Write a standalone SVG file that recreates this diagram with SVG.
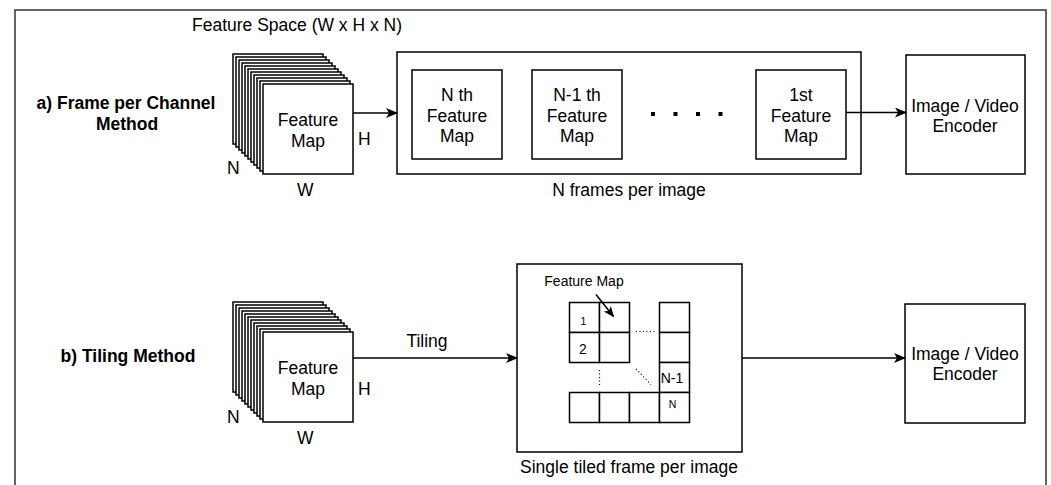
<svg xmlns="http://www.w3.org/2000/svg" width="1051" height="485" viewBox="0 0 1051 485">
  <defs>
    <style>
      .box { fill: #fff; stroke: #000; stroke-width: 1.5; }
      .frame { fill: none; stroke: #333; stroke-width: 1.5; }
      .edge { fill: none; stroke: #000; stroke-width: 1.5; }
      .dots { fill: none; stroke: #000; stroke-width: 1.2; stroke-dasharray: 1 2.5; }
      text { font-family: "Liberation Sans", Arial, Helvetica, sans-serif; fill: #000; }
      .t { font-size: 17.5px; }
      .c { text-anchor: middle; }
      .b { font-weight: bold; }
      .s { font-size: 14px; }
      .xs { font-size: 10.5px; }
    </style>
    <marker id="arrow" viewBox="0 0 12 10" refX="11" refY="5" markerWidth="12" markerHeight="10" markerUnits="userSpaceOnUse" orient="auto">
      <path d="M0,0 L12,5 L0,10 L3,5 Z" fill="#000"/>
    </marker>
    <marker id="arrowSm" viewBox="0 0 12 10" refX="11" refY="5" markerWidth="11" markerHeight="9" markerUnits="userSpaceOnUse" orient="auto">
      <path d="M0,0 L12,5 L0,10 L3,5 Z" fill="#000"/>
    </marker>
  </defs>

  <rect width="1051" height="485" fill="#fff"/>

  <!-- outer frame (continues past the bottom edge) -->
  <rect class="frame" x="15" y="10" width="1031" height="520"/>

  <!-- row labels -->
  <g id="label-a">
    <text class="t b c" x="126" y="109">a) Frame per Channel</text>
    <text class="t b c" x="127" y="130">Method</text>
  </g>
  <g id="label-b">
    <text class="t b c" x="128" y="362">b) Tiling Method</text>
  </g>

  <text id="feature-space" class="t" x="192" y="31">Feature Space (W x H x N)</text>

  <!-- a) stacked feature maps -->
  <g id="stack-a">
    <rect class="box" x="233" y="54" width="90" height="90"/>
    <rect class="box" x="236" y="57" width="90" height="90"/>
    <rect class="box" x="239" y="60" width="90" height="90"/>
    <rect class="box" x="242" y="63" width="90" height="90"/>
    <rect class="box" x="245" y="66" width="90" height="90"/>
    <rect class="box" x="248" y="69" width="90" height="90"/>
    <rect class="box" x="251" y="72" width="90" height="90"/>
    <rect class="box" x="254" y="75" width="90" height="90"/>
    <rect class="box" x="257" y="78" width="90" height="90"/>
    <rect class="box" x="260" y="81" width="90" height="90"/>
    <rect class="box" x="263" y="84" width="90" height="90"/>
    <text class="t c" x="308" y="126">Feature</text>
    <text class="t c" x="308" y="147">Map</text>
    <text class="t" x="358" y="145">H</text>
    <text class="t" x="227" y="174">N</text>
    <text class="t" x="297" y="196">W</text>
  </g>

  <!-- a) N frames container -->
  <g id="frames-a">
    <rect class="box" x="397" y="52" width="464" height="122"/>
    <text class="t c" x="629" y="196">N frames per image</text>
  </g>
  <g id="frame-nth">
    <rect class="box" x="412" y="70" width="90" height="89"/>
    <text class="t c" x="457" y="101">N th</text>
    <text class="t c" x="457" y="121.5">Feature</text>
    <text class="t c" x="457" y="142">Map</text>
  </g>
  <g id="frame-n1th">
    <rect class="box" x="532" y="70" width="90" height="89"/>
    <text class="t c" x="577" y="101">N-1 th</text>
    <text class="t c" x="577" y="121.5">Feature</text>
    <text class="t c" x="577" y="142">Map</text>
  </g>
  <g id="frame-ellipsis" fill="#000">
    <rect x="651" y="112" width="4" height="4"/>
    <rect x="673.5" y="112" width="4" height="4"/>
    <rect x="696" y="112" width="4" height="4"/>
    <rect x="718.5" y="112" width="4" height="4"/>
  </g>
  <g id="frame-1st">
    <rect class="box" x="756" y="70" width="90" height="89"/>
    <text class="t c" x="801" y="101">1st</text>
    <text class="t c" x="801" y="121.5">Feature</text>
    <text class="t c" x="801" y="142">Map</text>
  </g>

  <g id="encoder-a">
    <rect class="box" x="906" y="55" width="119" height="119"/>
    <text class="t c" x="965" y="112">Image / Video</text>
    <text class="t c" x="965" y="132">Encoder</text>
  </g>

  <!-- b) stacked feature maps -->
  <g id="stack-b">
    <rect class="box" x="233" y="302" width="90" height="90"/>
    <rect class="box" x="236" y="305" width="90" height="90"/>
    <rect class="box" x="239" y="308" width="90" height="90"/>
    <rect class="box" x="242" y="311" width="90" height="90"/>
    <rect class="box" x="245" y="314" width="90" height="90"/>
    <rect class="box" x="248" y="317" width="90" height="90"/>
    <rect class="box" x="251" y="320" width="90" height="90"/>
    <rect class="box" x="254" y="323" width="90" height="90"/>
    <rect class="box" x="257" y="326" width="90" height="90"/>
    <rect class="box" x="260" y="329" width="90" height="90"/>
    <rect class="box" x="263" y="332" width="90" height="90"/>
    <text class="t c" x="308" y="374">Feature</text>
    <text class="t c" x="308" y="395">Map</text>
    <text class="t" x="358" y="395">H</text>
    <text class="t" x="227" y="423">N</text>
    <text class="t" x="297" y="444">W</text>
  </g>

  <!-- b) single tiled frame -->
  <g id="tiled-frame">
    <rect class="box" x="517" y="264" width="225" height="188"/>
    <text class="t c" x="629" y="473">Single tiled frame per image</text>
    <text class="s c" x="584" y="286">Feature Map</text>
    <g id="tiles">
      <rect class="box" x="569.5" y="302.5" width="30" height="30"/>
      <rect class="box" x="599.5" y="302.5" width="30" height="30"/>
      <rect class="box" x="659.5" y="302.5" width="30" height="30"/>
      <rect class="box" x="569.5" y="332.5" width="30" height="30"/>
      <rect class="box" x="599.5" y="332.5" width="30" height="30"/>
      <rect class="box" x="659.5" y="332.5" width="30" height="30"/>
      <rect class="box" x="659.5" y="362.5" width="30" height="30"/>
      <rect class="box" x="569.5" y="392.5" width="30" height="30"/>
      <rect class="box" x="599.5" y="392.5" width="30" height="30"/>
      <rect class="box" x="629.5" y="392.5" width="30" height="30"/>
      <rect class="box" x="659.5" y="392.5" width="30" height="30"/>
      <text class="xs c" x="583.5" y="325">1</text>
      <text class="s c" x="583" y="354">2</text>
      <text class="s c" x="672" y="383">N-1</text>
      <text class="xs c" x="672.5" y="408">N</text>
    </g>
    <path class="dots" d="M636 331.5 H656"/>
    <path class="dots" d="M599.5 370 V386"/>
    <path class="dots" d="M636 369 L651 384.5"/>
  </g>

  <g id="encoder-b">
    <rect class="box" x="905" y="304" width="120" height="119"/>
    <text class="t c" x="965" y="360">Image / Video</text>
    <text class="t c" x="965" y="380">Encoder</text>
  </g>

  <!-- connectors -->
  <g id="connectors">
    <path class="edge" d="M353 113 H397" marker-end="url(#arrow)"/>
    <path class="edge" d="M846 112.5 H906" marker-end="url(#arrow)"/>
    <path class="edge" d="M353 358 H517" marker-end="url(#arrow)"/>
    <text class="t c" x="427" y="347">Tiling</text>
    <path class="edge" d="M742 358 H905" marker-end="url(#arrow)"/>
    <path class="edge" d="M596 294.5 L613.5 316.5" marker-end="url(#arrowSm)"/>
  </g>
</svg>
